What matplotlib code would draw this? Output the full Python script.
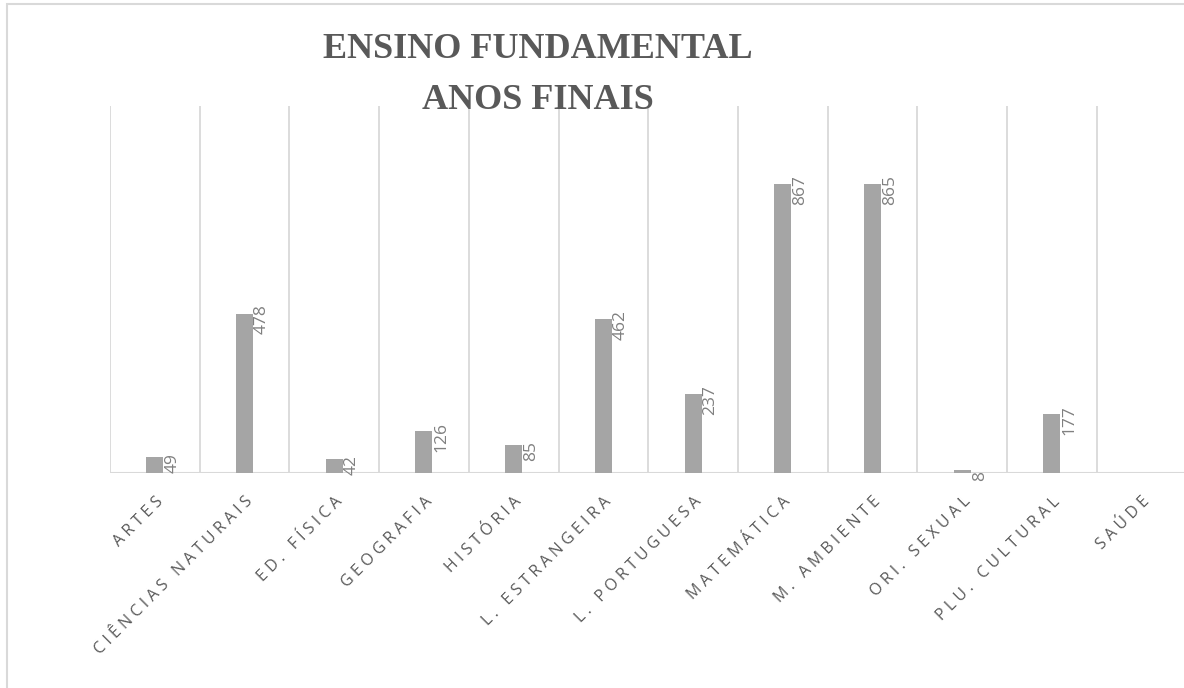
import numpy as np
import matplotlib.pyplot as plt
from matplotlib.patches import Rectangle

# data
categories = ['ARTES', 'CIÊNCIAS NATURAIS', 'ED. FÍSICA', 'GEOGRAFIA', 'HISTÓRIA',
              'L. ESTRANGEIRA', 'L. PORTUGUESA', 'MATEMÁTICA', 'M. AMBIENTE',
              'ORI. SEXUAL', 'PLU. CULTURAL', 'SAÚDE']
values = [49, 478, 42, 126, 85, 462, 237, 867, 865, 8, 177, 0]

bar_color = '#a5a5a5'
grid_color = '#d9d9d9'
text_color = '#595959'
label_color = '#808080'
bar_w = 0.19

plt.rcParams['font.family'] = ['Open Sans', 'DejaVu Sans']

fig = plt.figure(figsize=(11.84, 6.88), dpi=100)
ax = fig.add_axes([110 / 1184, 215 / 688, 1076.4 / 1184, 367 / 688])

x = np.arange(len(categories))
ax.bar(x, values, width=bar_w, color=bar_color, zorder=3)

ax.set_xlim(-0.5, len(categories) - 0.5)
ax.set_ylim(0, 1100)

# vertical separators between categories
for k in range(len(categories) + 1):
    ax.axvline(k - 0.5, color=grid_color, lw=1.3, zorder=1)
ax.axhline(0, color=grid_color, lw=1.5, zorder=2)

for s in ax.spines.values():
    s.set_visible(False)
ax.set_yticks([])
ax.tick_params(axis='x', length=0, pad=15)

# letter spaced tick labels
spaced = ['\u2009\u200a'.join(c) for c in categories]
ax.set_xticks(x)
ax.set_xticklabels(spaced, rotation=45, ha='right', rotation_mode='anchor',
                   fontsize=11.5, color=text_color)

# value labels, rotated
for xi, v in zip(x, values):
    if v == 0:
        continue
    ax.annotate(str(v), (xi + bar_w / 2, v), xytext=(1, -6), textcoords='offset pixels',
                rotation=90, ha='left', va='center', fontsize=12.5, color=label_color,
                zorder=4)

fig.text(538 / 1184, 1 - 75 / 688, 'ENSINO FUNDAMENTAL\nANOS FINAIS',
         ha='center', va='center', fontsize=26, fontweight='bold',
         family='Liberation Serif', color=text_color, linespacing=1.75)

# chart area border (cropped on right and bottom)
fig.patches.append(Rectangle((7 / 1184, -0.1), 1.2, 1 - 4 / 688 + 0.1,
                             transform=fig.transFigure, fill=False,
                             edgecolor=grid_color, lw=1.5))

fig.savefig('out.png', dpi=100)
